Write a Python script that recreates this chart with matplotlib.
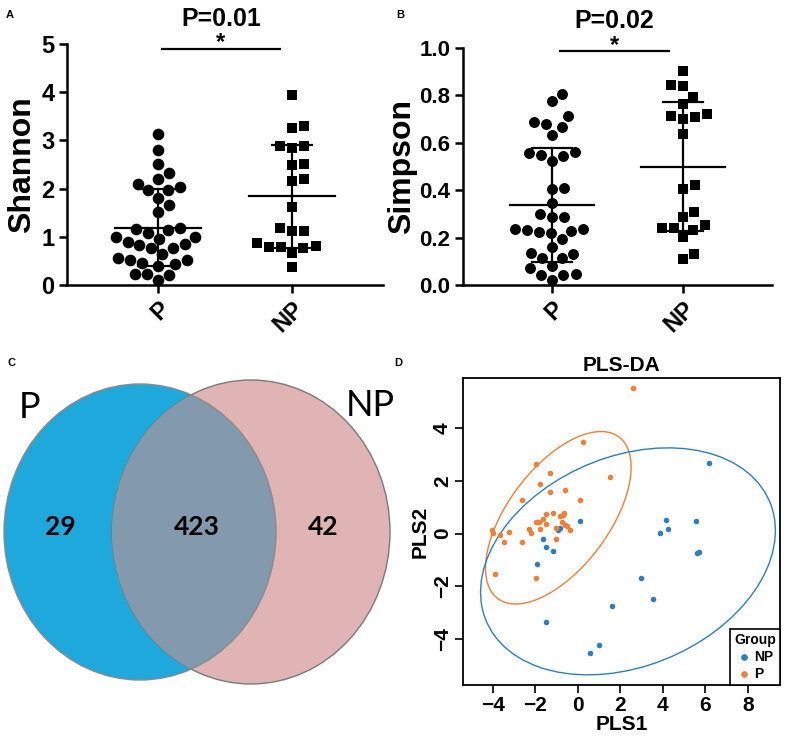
"""Alpha diversity (Shannon / Simpson), shared-OTU Venn and PLS-DA for P vs NP.

Values read off the published figure.
"""
import matplotlib

matplotlib.use("Agg")
import matplotlib.pyplot as plt
import numpy as np
from matplotlib.patches import Ellipse

plt.rcParams["font.family"] = ["Liberation Sans", "DejaVu Sans"]

GROUPS = ["P", "NP"]

# --- A: Shannon index
shannon_p = [3.13, 2.80, 2.51, 2.33, 2.20, 2.09, 2.03, 1.97, 1.97, 1.81, 1.65, 1.52,
             1.18, 1.16, 1.14, 1.07, 1.00, 1.00, 0.96, 0.89, 0.85, 0.82, 0.76, 0.76,
             0.64, 0.55, 0.52, 0.52, 0.45, 0.43, 0.40, 0.22, 0.22, 0.21, 0.10]
shannon_np = [3.95, 3.29, 3.25, 2.89, 2.84, 2.88, 2.51, 2.48, 2.20, 2.15, 1.61,
              1.18, 1.11, 1.11, 0.87, 0.81, 0.78, 0.78, 0.76, 0.67, 0.38]
shannon_mean = [1.19, 1.84]
shannon_sd = [0.80, 1.07]

# --- B: Simpson index
simpson_p = [0.808, 0.777, 0.712, 0.688, 0.681, 0.667, 0.635, 0.562, 0.555, 0.548,
             0.544, 0.522, 0.410, 0.407, 0.347, 0.298, 0.288, 0.285, 0.235, 0.235,
             0.232, 0.228, 0.225, 0.218, 0.192, 0.162, 0.133, 0.131, 0.112, 0.112,
             0.081, 0.070, 0.045, 0.042, 0.042, 0.021]
simpson_np = [0.902, 0.843, 0.840, 0.794, 0.763, 0.723, 0.712, 0.709, 0.699, 0.639,
              0.421, 0.407, 0.309, 0.285, 0.253, 0.242, 0.239, 0.232, 0.204, 0.129,
              0.108]
simpson_mean = [0.337, 0.499]
simpson_sd = [0.240, 0.272]

PVALS = ["P=0.01", "P=0.02"]

# --- C: Venn counts (P only, shared, NP only)
venn_counts = [29, 423, 42]
venn_sets = ["P", "NP"]

# --- D: PLS-DA scores
pls_p_x = [2.59, 0.25, -1.99, -1.33, 1.49, -1.79, -1.33, -0.60, -2.64, 0.09, -1.49,
           -1.16, -0.82, -0.66, -1.65, -1.95, -1.81, -1.49, -0.74, -0.61, -0.50,
           -0.35, -1.05, -1.79, -2.31, -2.23, -3.25, -4.03, -3.99, -3.69, -3.47,
           -2.64, -1.05, -3.88, -1.99, -0.70]
pls_p_y = [5.53, 3.48, 2.64, 2.31, 2.15, 1.89, 1.58, 1.64, 1.28, 1.28, 0.74, 0.77,
           0.68, 0.77, 0.54, 0.45, 0.45, 0.37, 0.45, 0.33, 0.27, 0.14, 0.20, 0.18,
           0.18, 0.04, 0.08, 0.14, 0.01, -0.05, -0.30, -0.30, -0.21, -1.54, -1.67,
           0.72]
pls_np_x = [6.17, 0.09, -0.94, -0.82, 4.13, 4.25, 3.88, 5.57, 5.62, 5.70, -1.65,
            -1.48, -1.16, -1.92, 2.98, 3.53, 1.63, -1.49, 1.00, 0.55]
pls_np_y = [2.69, 0.49, 0.14, 0.20, 0.51, 0.18, 0.01, 0.47, -0.74, -0.68, -0.21,
            -0.52, -0.64, -1.16, -1.68, -2.46, -2.73, -3.33, -4.22, -4.51]
# confidence ellipses as drawn: centre and covariance (xx, xy, yy)
ell_p_centre = [-0.92, 0.60]
ell_p_cov = [11.76, 6.56, 10.66]
ell_np_centre = [2.36, -1.05]
ell_np_cov = [48.2, 8.1, 18.45]

C_NP = "#2f7ebc"
C_P = "#f07f38"


def swarm_offsets(ax, x0, values, d_px):
    """Beeswarm: x positions (data units) so markers of diameter d_px do not overlap."""
    fig = ax.figure
    fig.canvas.draw()
    t = ax.transData
    pts = t.transform(np.column_stack([np.full(len(values), x0), values]))
    ypx = pts[:, 1]
    xc = pts[0, 0]
    placed = []
    offs_px = np.zeros(len(values))
    for i in np.argsort(values):
        cands = [0.0]
        for xj, yj in placed:
            dy = ypx[i] - yj
            if abs(dy) < d_px:
                dx = np.sqrt(d_px ** 2 - dy ** 2)
                cands += [xj + dx, xj - dx]
        cands.sort(key=lambda c: (abs(c), -c))
        for c in cands:
            if all((c - xj) ** 2 + (ypx[i] - yj) ** 2 >= d_px ** 2 - 1e-6 for xj, yj in placed):
                break
        placed.append((c, ypx[i]))
        offs_px[i] = c
    inv = t.inverted()
    return inv.transform(np.column_stack([xc + offs_px, ypx]))[:, 0]


def dot_panel(ax, vals, means, sds, ylim, yticks, yfmt, ylabel, ptxt, bar_y, bar_x, ms,
              tick_fs=17):
    ax.set_xlim(0.32, 2.68)
    ax.set_ylim(*ylim)
    for side in ("top", "right"):
        ax.spines[side].set_visible(False)
    for side in ("left", "bottom"):
        ax.spines[side].set_linewidth(1.8)
    ax.set_xticks([1, 2])
    ax.set_xticklabels(GROUPS, rotation=45, ha="right", va="top",
                       rotation_mode="anchor", fontsize=17, fontweight="bold")
    ax.set_yticks(yticks)
    ax.set_yticklabels([yfmt.format(v) for v in yticks], fontsize=tick_fs, fontweight="bold")
    ax.tick_params(direction="out", length=6, width=1.8, pad=3)
    ax.set_ylabel(ylabel, fontsize=23, fontweight="bold")

    markers = ["o", "s"]
    sizes = [ms, ms * 0.82]
    for k, v in enumerate(vals):
        xs = swarm_offsets(ax, k + 1, np.asarray(v), 12.3)
        ax.scatter(xs, v, s=sizes[k], marker=markers[k], color="black", zorder=3,
                   clip_on=False, linewidths=0)
        x = k + 1
        m, s = means[k], sds[k]
        ax.plot([x - 0.32, x + 0.32], [m, m], color="black", lw=1.6, zorder=4)
        ax.plot([x, x], [m - s, m + s], color="black", lw=1.6, zorder=4)
        for yy in (m - s, m + s):
            ax.plot([x - 0.15, x + 0.15], [yy, yy], color="black", lw=1.6, zorder=4)

    ax.plot(bar_x, [bar_y, bar_y], color="black", lw=1.6, clip_on=False)
    xm = sum(bar_x) / 2
    ax.annotate("*", (xm, bar_y), xytext=(0, -4), textcoords="offset points",
                ha="center", va="bottom", fontsize=17, fontweight="bold",
                annotation_clip=False)
    ax.annotate(ptxt, (xm, bar_y), xytext=(0, 13), textcoords="offset points",
                ha="center", va="bottom", fontsize=18, fontweight="bold",
                annotation_clip=False)


def cov_ellipse(centre, cov, color, ax):
    S = np.array([[cov[0], cov[1]], [cov[1], cov[2]]])
    w, v = np.linalg.eigh(S)
    angle = np.degrees(np.arctan2(v[1, 1], v[0, 1]))
    ax.add_patch(Ellipse(centre, 2 * np.sqrt(w[1]), 2 * np.sqrt(w[0]), angle=angle,
                         fill=False, edgecolor=color, lw=1.0))


def main() -> None:
    W, H = 785, 742
    fig = plt.figure(figsize=(W / 100, H / 100), dpi=100)

    def box(l, t, r, b):
        return [l / W, 1 - b / H, (r - l) / W, (b - t) / H]

    # A
    axA = fig.add_axes(box(67, 44, 383, 285))
    dot_panel(axA, [shannon_p, shannon_np], shannon_mean, shannon_sd, (0, 5),
              [0, 1, 2, 3, 4, 5], "{:g}", "Shannon", PVALS[0], 4.9, [1.03, 1.91], 70)
    axA.yaxis.set_label_coords(-0.095, 0.5)

    # B
    axB = fig.add_axes(box(463, 48, 772, 285))
    dot_panel(axB, [simpson_p, simpson_np], simpson_mean, simpson_sd, (0, 1.0),
              [0, 0.2, 0.4, 0.6, 0.8, 1.0], "{:.1f}", "Simpson", PVALS[1], 0.986,
              [1.06, 1.89], 62, tick_fs=16)
    axB.yaxis.set_label_coords(-0.15, 0.5)

    # C: Venn in pixel coordinates
    axC = fig.add_axes([0, 0, 400 / W, 402 / H])
    axC.set_xlim(0, 400)
    axC.set_ylim(742, 340)
    axC.axis("off")
    left = Ellipse((140, 532), 272, 296, facecolor="#1fa8db", edgecolor="#8a8a8a", lw=1)
    right = Ellipse((251, 532), 278, 304, facecolor="#e0b3b5", edgecolor="#7a7a7a", lw=1)
    axC.add_patch(left)
    axC.add_patch(right)
    over = Ellipse((140, 532), 272, 296, facecolor="#8399ad", edgecolor="#8a8a8a", lw=1)
    axC.add_patch(over)
    over.set_clip_path(right)
    venn_font = ["Lato", "DejaVu Sans"]
    for xpos, n in zip([60, 197, 323], venn_counts):
        axC.text(xpos, 527, str(n), ha="center", va="center", fontsize=19,
                 fontweight="bold", family=venn_font)
    axC.text(30, 408, venn_sets[0], ha="center", va="center", fontsize=26, family=venn_font)
    axC.text(370, 405, venn_sets[1], ha="center", va="center", fontsize=26, family=venn_font)

    # D: PLS-DA
    axD = fig.add_axes(box(463, 378, 780, 685))
    axD.scatter(pls_np_x, pls_np_y, s=16, color=C_NP, linewidths=0, label="NP", zorder=3)
    axD.scatter(pls_p_x, pls_p_y, s=16, color=C_P, linewidths=0, label="P", zorder=3)
    cov_ellipse(ell_p_centre, ell_p_cov, C_P, axD)
    cov_ellipse(ell_np_centre, ell_np_cov, C_NP, axD)
    axD.set_xlim(-5.41, 9.52)
    axD.set_ylim(-5.73, 5.89)
    axD.set_xticks([-4, -2, 0, 2, 4, 6, 8])
    axD.set_yticks([-4, -2, 0, 2, 4])
    for lab in axD.get_xticklabels() + axD.get_yticklabels():
        lab.set_fontweight("bold")
        lab.set_fontsize(15)
    plt.setp(axD.get_yticklabels(), rotation=90, va="center")
    for sp in axD.spines.values():
        sp.set_linewidth(1.3)
    axD.tick_params(direction="out", length=6, width=1.2, pad=2)
    axD.set_title("PLS-DA", fontsize=15, fontweight="bold", pad=5)
    axD.set_xlabel("PLS1", fontsize=15, fontweight="bold", labelpad=0)
    axD.set_ylabel("PLS2", fontsize=15, fontweight="bold", labelpad=2)
    leg = axD.legend(title="Group", loc="lower right", borderaxespad=0, fancybox=False,
                     edgecolor="black", framealpha=1, handletextpad=0.2, handlelength=1,
                     borderpad=0.3, labelspacing=0.2, markerscale=1.2,
                     prop={"weight": "bold", "size": 10})
    leg.get_title().set_fontweight("bold")
    leg.get_title().set_fontsize(10)
    leg.get_frame().set_linewidth(1.2)

    # panel letters
    for x, y, s in [(10, 15, "A"), (400, 15, "B"), (12, 363, "C"), (398, 363, "D")]:
        fig.text(x / W, 1 - y / H, s, ha="center", va="center", fontsize=8, fontweight="bold")

    fig.savefig("out.png", dpi=100)


if __name__ == "__main__":
    main()
